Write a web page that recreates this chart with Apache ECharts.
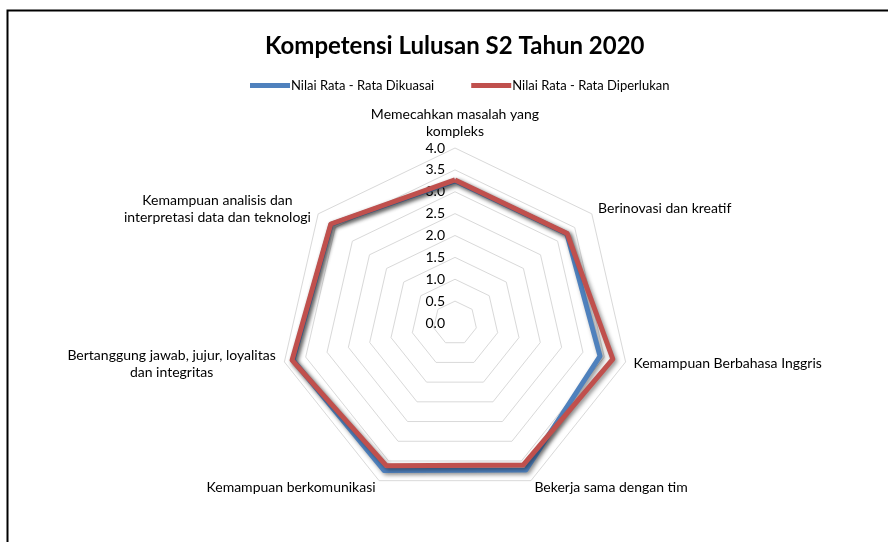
<!DOCTYPE html>
<html>
<head>
<meta charset="utf-8">
<script src="https://cdn.jsdelivr.net/npm/echarts@6/dist/echarts.min.js"></script>
<style>
html,body{margin:0;padding:0;background:#fff;}
#chart{width:888px;height:542px;}
</style>
</head>
<body>
<div id="chart"></div>
<script>
// Categories in drawing order (ECharts radar goes counter-clockwise from top)
var categories = [
  'Memecahkan masalah yang\nkompleks',
  'Kemampuan analisis dan\ninterpretasi data dan teknologi',
  'Bertanggung jawab, jujur, loyalitas\ndan integritas',
  'Kemampuan berkomunikasi',
  'Bekerja sama dengan tim',
  'Kemampuan Berbahasa Inggris',
  'Berinovasi dan kreatif'
];
var seriesNames = ['Nilai Rata - Rata Dikuasai', 'Nilai Rata - Rata Diperlukan'];
var dikuasai   = [3.25, 3.62, 3.80, 3.74, 3.73, 3.40, 3.27];
var diperlukan = [3.27, 3.63, 3.82, 3.62, 3.60, 3.70, 3.28];
var axisMin = 0, axisMax = 4, axisSplit = 8;

var FONT = 'Lato';
var NAME_SIZE = 14;
var measureCtx = document.createElement('canvas').getContext('2d');
measureCtx.font = NAME_SIZE + 'px ' + FONT;
function textWidth(s) { return Math.ceil(measureCtx.measureText(s).width) + 1; }

var chart = echarts.init(document.getElementById('chart'));
var indicators = categories.map(function (c, i) {
  var ind = { name: c, min: axisMin, max: axisMax };
  if (i === 0) {
    ind.axisLabel = { show: true };
  }
  return ind;
});

// rich styles with fixed width so multi-line names have centred lines
var nameRich = {};
categories.forEach(function (c, i) {
  var lines = c.split('\n');
  if (lines.length > 1) {
    var w = Math.max.apply(null, lines.map(textWidth));
    nameRich['n' + i] = { fontFamily: FONT, fontSize: NAME_SIZE, lineHeight: 17, color: '#000', align: 'center', width: w };
  }
});

var option = {
  animation: false,
  backgroundColor: '#ffffff',
  title: {
    text: 'Kompetensi Lulusan S2 Tahun 2020',
    left: 260,
    top: 29,
    textStyle: { fontFamily: FONT, fontWeight: 'bold', fontSize: 24, color: '#000' }
  },
  legend: {
    data: seriesNames,
    top: 74,
    left: 245,
    icon: 'rect',
    itemWidth: 40,
    itemHeight: 5,
    itemGap: 37,
    textStyle: { fontFamily: FONT, fontSize: 13, color: '#000', padding: [0, 0, 0, -4] }
  },
  graphic: [{
    type: 'rect',
    shape: { x: 7.5, y: 10.5, width: 900, height: 600 },
    style: { fill: 'none', stroke: '#000', lineWidth: 2 },
    silent: true
  }],
  radar: {
    center: [455, 323],
    radius: 175,
    startAngle: 90,
    splitNumber: axisSplit,
    shape: 'polygon',
    indicator: indicators,
    axisName: {
      color: '#000', fontFamily: FONT, fontSize: NAME_SIZE, lineHeight: 17,
      formatter: function (name) {
        var idx = categories.indexOf(name);
        var lines = name.split('\n');
        if (lines.length === 1) return name;
        return lines.map(function (l) { return '{n' + idx + '|' + l + '}'; }).join('\n');
      },
      rich: nameRich
    },
    nameGap: 8,
    axisLine: { show: false },
    axisTick: { show: false },
    splitArea: { show: false },
    splitLine: { lineStyle: { color: '#d9d9d9', width: 1 } },
    axisLabel: {
      show: false,
      fontFamily: FONT, fontSize: 14, color: '#000',
      margin: 10,
      formatter: function (v) { return Number(v).toFixed(1); }
    }
  },
  series: [{
    type: 'radar',
    symbol: 'none',
    data: [
      {
        name: seriesNames[0], value: dikuasai,
        lineStyle: { color: '#4F81BD', width: 5, shadowColor: 'rgba(0,0,0,0.45)', shadowBlur: 4, shadowOffsetX: 2, shadowOffsetY: 2 },
        itemStyle: { color: '#4F81BD' }
      },
      {
        name: seriesNames[1], value: diperlukan,
        lineStyle: { color: '#C0504D', width: 5, shadowColor: 'rgba(0,0,0,0.45)', shadowBlur: 4, shadowOffsetX: 2, shadowOffsetY: 2 },
        itemStyle: { color: '#C0504D' }
      }
    ]
  }]
};
chart.setOption(option);
</script>
</body>
</html>
